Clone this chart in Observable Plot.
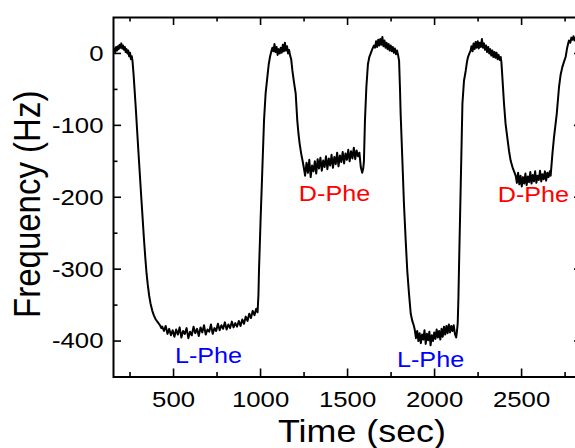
<!DOCTYPE html>
<html><head><meta charset="utf-8">
<script src="https://cdn.jsdelivr.net/npm/d3@7"></script>
<script src="https://cdn.jsdelivr.net/npm/@observablehq/plot@0.6"></script>
<style>
html,body{margin:0;padding:0;overflow:hidden;background:#fff;width:575px;height:448px}
svg{max-width:none !important;display:block}
</style></head><body><div id="chart"></div>
<script>
// Trace segments: [time (sec), frequency (Hz)]
const buffer1 = [[155,3],[160,7],[165,2],[170,9],[175,4],[180,10],[185,6],[190,12],[195,8],[200,14],[205,7],[210,11],[215,5],[220,9],[225,2],[230,6],[235,0],[240,4],[245,-4],[250,1],[255,-8],[260,-4]];
const dropL1 = [[264,-10],[270,-28],[276,-50],[282,-72],[290,-104],[298,-136],[306,-167],[314,-198],[322,-228],[330,-258],[338,-285],[345,-306],[352,-322],[360,-337],[368,-348],[378,-358],[388,-365],[398,-370],[410,-374],[422,-378],[430,-382]];
const floorL1 = [[435,-380],[445,-386],[455,-379],[465,-390],[475,-383],[485,-392],[495,-385],[505,-394],[515,-384],[525,-391],[535,-381],[545,-395],[555,-386],[565,-390],[575,-382],[585,-396],[595,-387],[605,-392],[615,-380],[625,-389],[635,-383],[645,-393],[655,-381],[665,-388],[675,-378],[685,-391],[695,-384],[705,-387],[715,-377],[725,-390],[735,-382],[745,-386],[755,-376],[765,-385],[775,-378],[785,-383],[795,-374],[805,-384],[815,-377],[825,-382],[835,-373],[845,-381],[855,-375],[865,-380],[875,-372],[885,-379],[895,-370],[905,-376],[915,-366],[925,-372],[935,-362],[945,-368],[955,-358],[965,-364],[975,-355],[983,-360]];
const riseL1 = [[988,-335],[991,-302],[1000,-233],[1010,-163],[1020,-93],[1029,-56],[1039,-33],[1047,-15],[1054,-5],[1061,2],[1068,8]];
const top1 = [[1074,3],[1080,13],[1086,2],[1092,9],[1098,-2],[1104,6],[1110,0],[1116,8],[1122,1],[1128,12],[1134,3],[1140,15],[1146,4],[1152,10],[1158,0],[1164,5],[1170,-3]];
const dropD1 = [[1176,-8],[1183,-24],[1192,-40],[1202,-56],[1211,-93],[1218,-112],[1225,-126],[1234,-140],[1242,-150]];
const floorD1 = [[1248,-158],[1256,-170],[1264,-152],[1272,-166],[1280,-148],[1288,-172],[1296,-156],[1304,-164],[1312,-150],[1320,-167],[1328,-147],[1336,-160],[1344,-145],[1352,-163],[1360,-149],[1368,-158],[1376,-143],[1384,-161],[1392,-146],[1400,-156],[1408,-141],[1416,-159],[1424,-144],[1432,-154],[1440,-138],[1448,-157],[1456,-142],[1464,-151],[1472,-137],[1480,-153],[1488,-139],[1496,-148],[1504,-134],[1512,-150],[1520,-136],[1528,-146],[1536,-131],[1544,-147],[1552,-135],[1560,-143],[1568,-138],[1576,-158],[1584,-166],[1590,-160]];
const riseD1 = [[1594,-150],[1600,-93],[1608,-47],[1617,-15],[1625,-5],[1633,0],[1642,6],[1652,11]];
const top2 = [[1658,8],[1664,17],[1670,9],[1676,19],[1682,11],[1688,20],[1694,12],[1700,23],[1706,10],[1712,18],[1718,8],[1724,15],[1730,6],[1736,13],[1742,4],[1748,11],[1754,3],[1760,9],[1766,1],[1772,7],[1778,-1],[1784,4],[1790,-2]];
const dropL2 = [[1796,-10],[1801,-47],[1805,-84],[1815,-149],[1824,-209],[1834,-260],[1843,-302],[1853,-334],[1863,-362],[1872,-372],[1880,-378]];
const floorL2 = [[1886,-384],[1893,-396],[1900,-386],[1907,-400],[1914,-389],[1921,-403],[1928,-391],[1935,-398],[1942,-385],[1949,-404],[1956,-390],[1963,-399],[1970,-387],[1977,-406],[1984,-392],[1991,-400],[1998,-388],[2005,-397],[2012,-384],[2019,-395],[2026,-386],[2033,-398],[2040,-383],[2047,-394],[2054,-380],[2061,-391],[2068,-379],[2075,-389],[2082,-377],[2089,-388],[2096,-379],[2103,-386],[2110,-378],[2117,-390],[2124,-395],[2128,-388]];
const riseL2 = [[2133,-375],[2137,-340],[2140,-302],[2146,-232],[2154,-140],[2160,-70],[2169,-38],[2179,-24],[2186,-12],[2192,-5],[2200,0],[2207,4]];
const top3 = [[2212,10],[2218,3],[2224,14],[2230,6],[2236,16],[2242,8],[2248,17],[2254,7],[2260,15],[2266,9],[2272,20],[2278,8],[2284,14],[2290,5],[2296,11],[2302,2],[2308,9],[2314,0],[2320,6],[2326,-3],[2332,4],[2338,-5],[2344,2],[2350,-6],[2356,1],[2362,-8],[2368,-2],[2374,-9],[2380,-5]];
const dropD2 = [[2384,-12],[2390,-35],[2399,-70],[2408,-98],[2418,-117],[2428,-136],[2437,-149],[2450,-160],[2460,-166]];
const floorD2 = [[2466,-170],[2473,-180],[2480,-166],[2487,-182],[2494,-170],[2501,-185],[2508,-172],[2515,-181],[2522,-167],[2529,-183],[2536,-171],[2543,-179],[2550,-165],[2557,-181],[2564,-169],[2571,-178],[2578,-164],[2585,-180],[2592,-170],[2599,-176],[2606,-163],[2613,-178],[2620,-168],[2627,-175],[2634,-164],[2641,-177],[2648,-166],[2655,-172],[2662,-164]];
const riseD2 = [[2667,-170],[2672,-155],[2677,-140],[2686,-117],[2702,-84],[2715,-47],[2724,-30],[2734,-19],[2743,-12],[2753,-5],[2762,8],[2772,18],[2780,15],[2786,22],[2792,19],[2798,24],[2804,18],[2810,22],[2816,17],[2822,21],[2830,18],[2840,20]];

// Annotations
const labelText  = ["L-Phe", "D-Phe", "L-Phe", "D-Phe"];
const labelTime  = [701, 1425, 1977, 2568];
const labelFreq  = [-420, -195, -426, -197];
const labelColor = ["#0000ff", "#ff0000", "#0000ff", "#ff0000"];

// Ticks
const xMajor = [500, 1000, 1500, 2000, 2500];
const xMinor = [250, 750, 1250, 1750, 2250, 2750];
const yMajor = [0, -100, -200, -300, -400];
const yMinor = [-50, -150, -250, -350];
const xTitle = "Time (sec)";
const yTitle = "Frequency (Hz)";

const trace = [buffer1, dropL1, floorL1, riseL1, top1, dropD1, floorD1, riseD1, top2,
  dropL2, floorL2, riseL2, top3, dropD2, floorD2, riseD2].flat().map(([t, f]) => ({t, f}));
const labels = labelText.map((s, i) => ({s, t: labelTime[i], f: labelFreq[i], c: labelColor[i]}));

const W = 584, H = 448, ML = 113, MR = 2, MT = 17, MB = 71.5;
const PW = W - ML - MR, PH = H - MT - MB;
const major = 8, minor = 4.5;
const tickStyle = {stroke: "black", strokeWidth: 1.6};

const chart = Plot.plot({
  width: W, height: H,
  marginLeft: ML, marginRight: MR, marginTop: MT, marginBottom: MB,
  style: {fontFamily: "'Liberation Sans', Arial, sans-serif", background: "white", color: "black"},
  x: {domain: [155, 2850]},
  y: {domain: [-450, 50]},
  marks: [
    Plot.line(trace, {x: "t", y: "f", stroke: "black", strokeWidth: 2, clip: true}),
    Plot.text(labels, {x: "t", y: "f", text: "s", fill: "c", fontSize: 22.5, lineAnchor: "middle"}),
    // tick labels
    Plot.axisX(xMajor, {anchor: "bottom", tickSize: 0, tickPadding: 14, fontSize: 23, label: null, tickFormat: d => String(d)}),
    Plot.axisY(yMajor, {anchor: "left", tickSize: 0, tickPadding: 10, fontSize: 23, label: null, tickFormat: d => String(d)}),
    // inward tick marks (bottom, top, left, right)
    Plot.ruleX(xMajor, {x: d => d, insetTop: PH - major, ...tickStyle}),
    Plot.ruleX(xMinor, {x: d => d, insetTop: PH - minor, ...tickStyle}),
    Plot.ruleX(xMajor, {x: d => d, insetBottom: PH - major, ...tickStyle}),
    Plot.ruleX(xMinor, {x: d => d, insetBottom: PH - minor, ...tickStyle}),
    Plot.ruleY(yMajor, {y: d => d, insetRight: PW - major, ...tickStyle}),
    Plot.ruleY(yMinor, {y: d => d, insetRight: PW - minor, ...tickStyle}),
    Plot.ruleY(yMajor, {y: d => d, insetLeft: PW - major, ...tickStyle}),
    Plot.ruleY(yMinor, {y: d => d, insetLeft: PW - minor, ...tickStyle}),
    Plot.frame({stroke: "black", strokeWidth: 2}),
    // axis titles
    Plot.text([xTitle], {frameAnchor: "bottom", textAnchor: "middle", dx: 14, dy: 55, fontSize: 32, lineAnchor: "middle"}),
    Plot.text([yTitle], {frameAnchor: "left", textAnchor: "middle", rotate: -90, dx: -85, dy: 7, fontSize: 33, lineAnchor: "middle"})
  ]
});

// The reference image is horizontally stretched (~1.12x); stretch text glyphs about their anchors.
const S = 1.12;
chart.querySelectorAll("text").forEach(t => {
  const tr = t.getAttribute("transform") || "";
  const x = +t.getAttribute("x") || 0, y = +t.getAttribute("y") || 0;
  const sc = /rotate\(-90\)/.test(tr) ? `scale(1,${S})` : `scale(${S},1)`;
  t.setAttribute("transform", `${tr} translate(${x},${y}) ${sc} translate(${-x},${-y})`);
});
document.getElementById("chart").appendChild(chart);
</script></body></html>
